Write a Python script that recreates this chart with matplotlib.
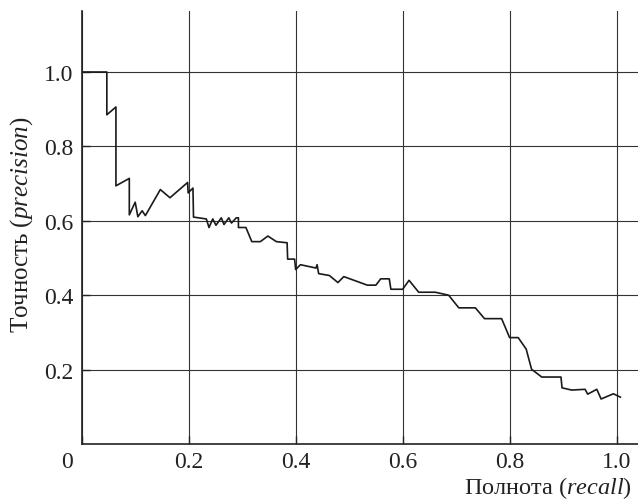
import matplotlib

matplotlib.use("Agg")
import matplotlib.pyplot as plt
import matplotlib.transforms as mtransforms

# precision-recall curve, values
recall = [
    0.0, 0.047, 0.047, 0.064, 0.064, 0.089, 0.089, 0.100, 0.105, 0.113,
    0.119, 0.147, 0.165, 0.198, 0.199, 0.208, 0.209, 0.233, 0.238, 0.245,
    0.251, 0.261, 0.266, 0.275, 0.280, 0.289, 0.293, 0.293, 0.307, 0.318,
    0.334, 0.348, 0.364, 0.384, 0.385, 0.398, 0.400, 0.409, 0.438, 0.440,
    0.443, 0.463, 0.479, 0.490, 0.534, 0.550, 0.559, 0.575, 0.578, 0.600,
    0.612, 0.630, 0.661, 0.686, 0.705, 0.736, 0.753, 0.785, 0.800, 0.816,
    0.831, 0.841, 0.860, 0.896, 0.898, 0.916, 0.941, 0.946, 0.963, 0.971,
    0.994, 1.007,
]
precision = [
    1.0, 1.0, 0.885, 0.906, 0.694, 0.714, 0.616, 0.650, 0.611, 0.627,
    0.614, 0.684, 0.662, 0.703, 0.675, 0.688, 0.610, 0.605, 0.582, 0.605,
    0.588, 0.608, 0.590, 0.608, 0.594, 0.608, 0.608, 0.582, 0.582, 0.544,
    0.544, 0.559, 0.544, 0.541, 0.497, 0.497, 0.469, 0.482, 0.473, 0.482,
    0.458, 0.453, 0.434, 0.450, 0.427, 0.427, 0.444, 0.444, 0.416, 0.416,
    0.440, 0.408, 0.408, 0.400, 0.366, 0.366, 0.337, 0.337, 0.286, 0.286,
    0.255, 0.201, 0.180, 0.180, 0.151, 0.145, 0.147, 0.134, 0.147, 0.121,
    0.135, 0.126,
]

xticks = [0, 0.2, 0.4, 0.6, 0.8, 1.0]
xtick_labels = ["0", "0.2", "0.4", "0.6", "0.8", "1.0"]
yticks = [0.2, 0.4, 0.6, 0.8, 1.0]
ytick_labels = ["0.2", "0.4", "0.6", "0.8", "1.0"]

plt.rcParams["font.family"] = ["Liberation Serif", "DejaVu Serif"]
plt.rcParams["mathtext.fontset"] = "custom"
plt.rcParams["mathtext.rm"] = "Liberation Serif"
plt.rcParams["mathtext.it"] = "Liberation Serif:italic"

fig = plt.figure(figsize=(6.38, 5.02), dpi=100)
ax = fig.add_axes([81.7 / 638, 57 / 502, 1 - 81.7 / 638, 433 / 502])

ax.plot(recall, precision, color="#1a1a1a", lw=1.2, zorder=3)

ax.set_xlim(0, 1.04)
ax.set_ylim(0, 1.164)
ax.set_xticks(xticks)
ax.set_xticklabels(xtick_labels)
ax.set_yticks(yticks)
ax.set_yticklabels(ytick_labels)
ax.tick_params(direction="in", length=6, width=1, labelsize=17, colors="#222222")
ax.tick_params(axis="y", pad=6)
ax.tick_params(axis="x", pad=5)

ax.grid(True, color="#333333", lw=0.8)
for side in ("top", "right"):
    ax.spines[side].set_visible(False)
for side in ("left", "bottom"):
    ax.spines[side].set_linewidth(1.2)
    ax.spines[side].set_color("#222222")

# origin "0" sits left of the corner, shared by both axes
offset = mtransforms.ScaledTranslation(-15 / 100, 0, fig.dpi_scale_trans)
lbl0 = ax.get_xticklabels()[0]
lbl0.set_transform(lbl0.get_transform() + offset)

fig.text(0.99, 1 / 502, r"Полнота ($\mathit{recall}$)", ha="right", va="bottom",
         fontsize=17.5, color="#222222")
fig.text(22 / 638, 1 - 225 / 502, r"Точность ($\mathit{precision}$)", ha="center",
         va="center", rotation=90, fontsize=18, color="#222222")

fig.savefig("out.png", dpi=100)
